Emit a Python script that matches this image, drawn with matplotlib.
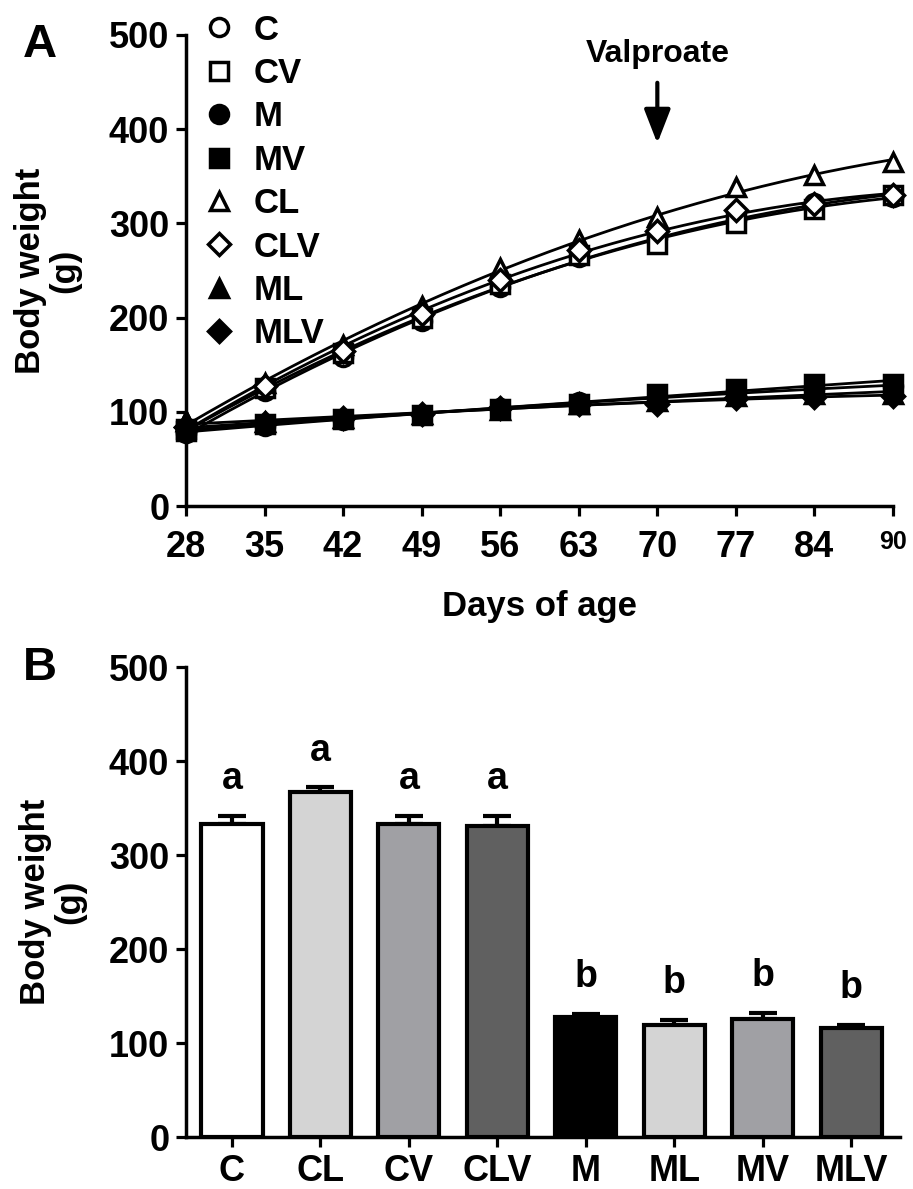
import numpy as np
import matplotlib
matplotlib.use("Agg")
import matplotlib.pyplot as plt

plt.rcParams['font.family'] = ['Liberation Sans', 'DejaVu Sans']
plt.rcParams['font.weight'] = 'bold'

# ---- panel A data: body weight (g) vs days of age ----
days = [28, 35, 42, 49, 56, 63, 70, 77, 84, 91]
day_labels = ["28", "35", "42", "49", "56", "63", "70", "77", "84", "90"]

w_C   = [78, 122, 158, 196, 233, 264, 285, 304, 322, 328]
w_CV  = [80, 125, 162, 200, 236, 266, 278, 300, 315, 330]
w_M   = [80, 85, 91, 97, 104, 110, 115, 122, 124, 127]
w_MV  = [82, 87, 92, 97, 103, 108, 119, 124, 130, 130]
w_CL  = [90, 131, 171, 212, 253, 282, 307, 339, 351, 365]
w_CLV = [84, 127, 165, 204, 240, 272, 292, 314, 321, 330]
w_ML  = [90, 89, 93, 98, 102, 108, 112, 117, 119, 119]
w_MLV = [84, 88, 93, 98, 104, 108, 108, 115, 116, 117]

# ---- panel B data: final body weight ----
groups = ["C", "CL", "CV", "CLV", "M", "ML", "MV", "MLV"]
final_w = [333, 367, 333, 331, 128, 119, 126, 116]
final_sem = [9, 5, 9, 11, 3, 6, 6, 3]
letters = ["a", "a", "a", "a", "b", "b", "b", "b"]
bar_colors = ["white", "#d4d4d4", "#a0a0a4", "#606060",
              "black", "#d4d4d4", "#a0a0a4", "#606060"]

fig = plt.figure(figsize=(9.13, 11.89), dpi=100)
axA = fig.add_axes([0.2037, 0.5744, 0.7744, 0.3962])
axB = fig.add_axes([0.2037, 0.0437, 0.7820, 0.3953])

TICKFS = 26

series = [
    ("C", w_C, "o", "white"),
    ("CV", w_CV, "s", "white"),
    ("M", w_M, "o", "black"),
    ("MV", w_MV, "s", "black"),
    ("CL", w_CL, "^", "white"),
    ("CLV", w_CLV, "D", "white"),
    ("ML", w_ML, "^", "black"),
    ("MLV", w_MLV, "D", "black"),
]

xs = np.linspace(days[0], days[-1], 200)
for name, w, mk, fc in series:
    # smooth curve fitted through the points
    coef = np.polyfit(days, w, 2)
    axA.plot(xs, np.polyval(coef, xs), color="black", lw=2, zorder=2)
    ms = 11 if mk == "D" else 13
    axA.plot(days, w, linestyle="none", marker=mk, ms=ms, mfc=fc,
             mec="black", mew=2.5, label=name, clip_on=False, zorder=3)

axA.set_xlim(28, 91)
axA.set_ylim(0, 500)
axA.set_xticks(days)
axA.set_xticklabels(day_labels)
axA.set_yticks([0, 100, 200, 300, 400, 500])
axA.set_xlabel("Days of age", fontsize=25, fontweight="bold", labelpad=18)
axA.set_ylabel("Body weight\n(g)", fontsize=25, fontweight="bold", linespacing=1.05)
axA.yaxis.set_label_coords(-0.148, 0.5)

axA.annotate("Valproate", xy=(70, 385), xytext=(70, 464),
             ha="center", va="bottom", fontsize=23, fontweight="bold",
             arrowprops=dict(arrowstyle="-|>,head_length=0.9,head_width=0.35",
                             color="black", lw=3, shrinkA=8, shrinkB=0))

leg = axA.legend(loc="upper left", bbox_to_anchor=(0.005, 1.075), frameon=False,
                 fontsize=25, handlelength=0.9, handletextpad=0.55,
                 labelspacing=0.3, borderaxespad=0)
for t in leg.get_texts():
    t.set_fontweight("bold")

# ---- panel B ----
xpos = np.arange(len(groups))
axB.bar(xpos, final_w, width=0.69, color=bar_colors, edgecolor="black",
        linewidth=3, zorder=2)
axB.errorbar(xpos, final_w, yerr=[np.zeros(len(final_w)), final_sem],
             fmt="none", ecolor="black", elinewidth=3, capsize=10,
             capthick=3, zorder=1)
for x, v, e, l in zip(xpos, final_w, final_sem, letters):
    axB.text(x, v + e + 20, l, ha="center", va="bottom", fontsize=27,
             fontweight="bold")

axB.set_xlim(-0.52, 7.55)
axB.set_ylim(0, 500)
axB.set_xticks(xpos)
axB.set_xticklabels(groups)
axB.set_yticks([0, 100, 200, 300, 400, 500])
axB.set_ylabel("Body weight\n(g)", fontsize=25, fontweight="bold", linespacing=1.05)
axB.yaxis.set_label_coords(-0.14, 0.5)

for ax in (axA, axB):
    for side in ("top", "right"):
        ax.spines[side].set_visible(False)
    for side in ("left", "bottom"):
        ax.spines[side].set_linewidth(2.5)
    ax.tick_params(direction="out", length=7, width=2.3, labelsize=TICKFS, pad=5)
    for lab in ax.get_xticklabels() + ax.get_yticklabels():
        lab.set_fontweight("bold")
axA.tick_params(axis="x", pad=10)
axA.get_xticklabels()[-1].set_fontsize(18)

fig.text(40 / 913, 1 - 45 / 1189, "A", fontsize=34, fontweight="bold",
         ha="center", va="center")
fig.text(40 / 913, 1 - 668 / 1189, "B", fontsize=34, fontweight="bold",
         ha="center", va="center")

fig.savefig("out.png", dpi=100)
